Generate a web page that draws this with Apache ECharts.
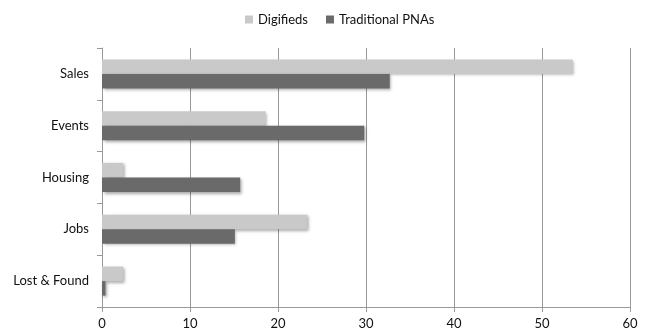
<!DOCTYPE html>
<html><head><meta charset="utf-8">
<script src="https://cdn.jsdelivr.net/npm/echarts@6/dist/echarts.min.js"></script>
<style>html,body{margin:0;padding:0;background:#fff}#c{width:649px;height:333px}</style>
</head><body><div id="c"></div>
<script>
var categories = ['Sales', 'Events', 'Housing', 'Jobs', 'Lost & Found'];
var digifieds = [53.5, 18.6, 2.4, 23.3, 2.4];
var traditional = [32.7, 29.8, 15.7, 15.1, 0.4];
var seriesNames = ['Digifieds', 'Traditional PNAs'];
var xTicks = {min: 0, max: 60, interval: 10};

var font = 'Lato, "Open Sans", sans-serif';
var chart = echarts.init(document.getElementById('c'), null, {renderer: 'canvas'});
var shadow = {shadowBlur: 3, shadowOffsetX: 1.5, shadowOffsetY: 1.5, shadowColor: 'rgba(0,0,0,0.35)'};
chart.setOption({
  animation: false,
  legend: {
    top: 8, left: 240, itemWidth: 8, itemHeight: 8, itemGap: 18,
    icon: 'rect',
    textStyle: {fontFamily: font, fontSize: 13, color: '#111'},
    data: seriesNames
  },
  grid: {left: 102, right: 19, top: 48, bottom: 26, containLabel: false},
  xAxis: {
    type: 'value', min: xTicks.min, max: xTicks.max, interval: xTicks.interval,
    axisLine: {show: true, lineStyle: {color: '#999', width: 1}},
    axisTick: {show: true, length: 5, lineStyle: {color: '#999'}},
    splitLine: {show: true, lineStyle: {color: '#999', width: 1}},
    axisLabel: {fontFamily: font, fontSize: 13, color: '#111', margin: 10}
  },
  yAxis: {
    type: 'category', data: categories, inverse: true,
    axisLine: {show: true, lineStyle: {color: '#999', width: 1}},
    axisTick: {show: true, length: 5, lineStyle: {color: '#999'}},
    axisLabel: {fontFamily: font, fontSize: 13, color: '#111', margin: 13}
  },
  series: [
    {name: seriesNames[0], type: 'bar', data: digifieds, barGap: '0%', barCategoryGap: '44%',
     itemStyle: Object.assign({color: '#c9c9c9'}, shadow)},
    {name: seriesNames[1], type: 'bar', data: traditional, barGap: '0%', barCategoryGap: '44%',
     itemStyle: Object.assign({color: '#6a6a6a'}, shadow)}
  ]
});
</script>
</body></html>
